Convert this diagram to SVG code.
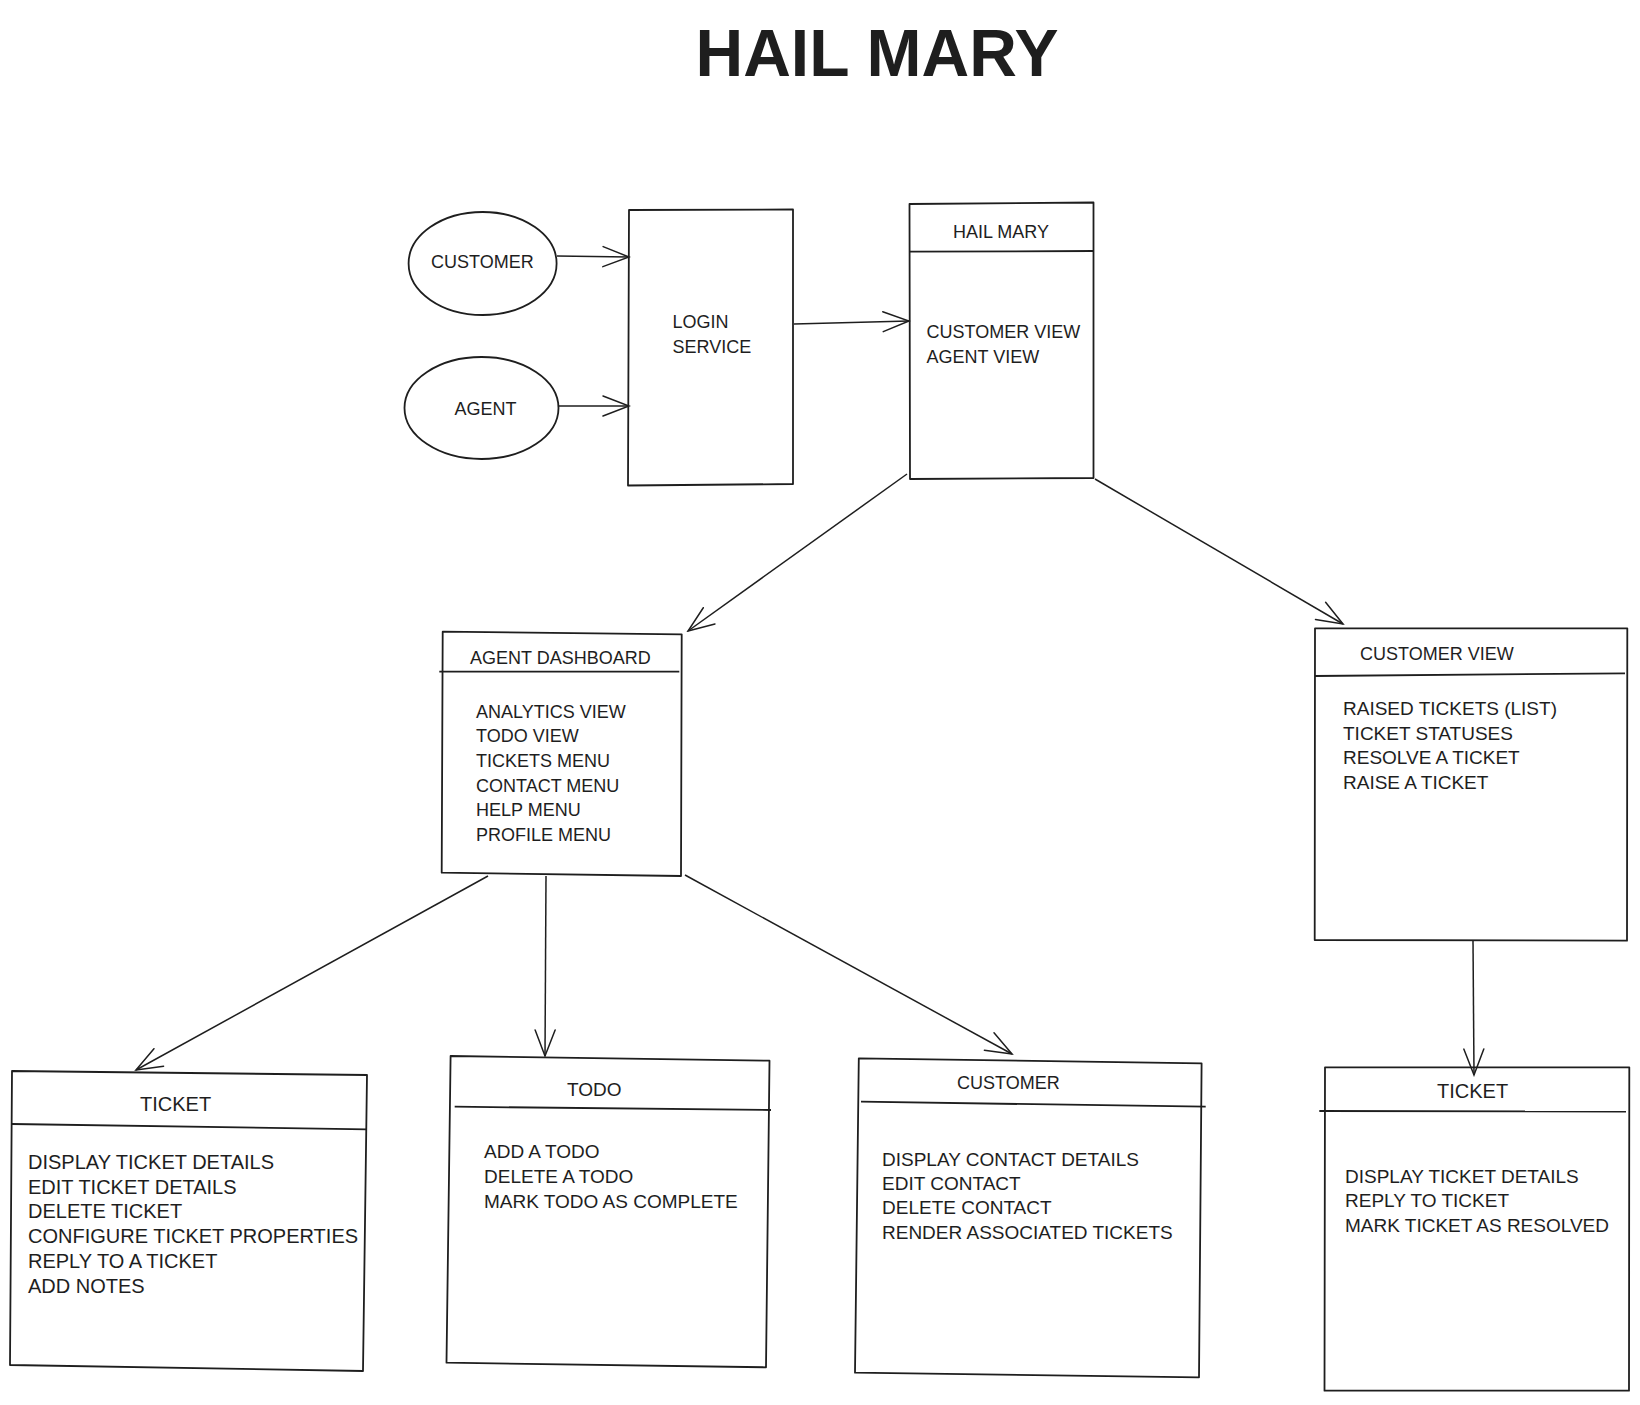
<svg xmlns="http://www.w3.org/2000/svg" width="1640" height="1405" viewBox="0 0 1640 1405">
<style>
.bx{fill:none;stroke:#1e1e1e;stroke-width:1.8;stroke-linejoin:round}
.ln{fill:none;stroke:#1e1e1e;stroke-width:1.5}
text{font-family:"Liberation Sans",Arial,sans-serif;fill:#1e1e1e}
.h{font-size:18px}
.b{font-size:18px}
.b19{font-size:19px}
.b20{font-size:20px}
</style>
<defs>
<marker id="ah" viewBox="-28 -12 30 24" refX="0" refY="0" markerWidth="30" markerHeight="24" markerUnits="userSpaceOnUse" orient="auto">
<path d="M-26,-10 L0,0 L-26,10" fill="none" stroke="#1e1e1e" stroke-width="1.5" stroke-linecap="round"/>
</marker>
</defs>
<rect width="1640" height="1405" fill="#ffffff"/>
<text id="title" x="877" y="76" text-anchor="middle" font-size="66" font-weight="bold">HAIL MARY</text>

<g id="connectors">
<line class="ln" x1="557" y1="256" x2="629" y2="257" marker-end="url(#ah)"/>
<line class="ln" x1="558" y1="406" x2="629" y2="406" marker-end="url(#ah)"/>
<line class="ln" x1="794" y1="324" x2="909" y2="321" marker-end="url(#ah)"/>
<line class="ln" x1="907" y1="474" x2="688" y2="631" marker-end="url(#ah)"/>
<line class="ln" x1="1095" y1="479" x2="1343" y2="624" marker-end="url(#ah)"/>
<line class="ln" x1="488" y1="876" x2="136" y2="1070" marker-end="url(#ah)"/>
<line class="ln" x1="546" y1="876" x2="545" y2="1056" marker-end="url(#ah)"/>
<line class="ln" x1="685" y1="875" x2="1012" y2="1054" marker-end="url(#ah)"/>
<line class="ln" x1="1473" y1="940" x2="1474" y2="1075" marker-end="url(#ah)"/>
</g>

<g id="customer-actor">
<ellipse class="bx" cx="482.6" cy="263.5" rx="74" ry="51.5"/>
<text class="h" x="431" y="268">CUSTOMER</text>
</g>
<g id="agent-actor">
<ellipse class="bx" cx="481.5" cy="408" rx="77" ry="51"/>
<text class="h" x="454.6" y="415">AGENT</text>
</g>
<g id="login-service">
<path class="bx" d="M629,210 L793,209.5 L793,484 L628,485.5 Z"/>
<text class="h" x="672.6" y="328">LOGIN</text>
<text class="h" x="672.6" y="353">SERVICE</text>
</g>
<g id="hail-mary">
<path class="bx" d="M909.5,204 L1093.5,202.5 L1093.5,478 L910,479 Z"/>
<line class="bx" x1="910" y1="251.7" x2="1093.5" y2="251"/>
<text class="h" x="953" y="238">HAIL MARY</text>
<text class="b" x="926.5" y="338">CUSTOMER VIEW</text>
<text class="b" x="926.5" y="363">AGENT VIEW</text>
</g>
<g id="agent-dashboard">
<path class="bx" d="M442.7,631.7 L681.7,634.3 L681,876 L441.7,872.7 Z"/>
<line class="bx" x1="439.3" y1="671.7" x2="679.3" y2="671.7"/>
<text class="h" x="470" y="664">AGENT DASHBOARD</text>
<text class="b" x="476" y="718">ANALYTICS VIEW</text>
<text class="b" x="476" y="742">TODO VIEW</text>
<text class="b" x="476" y="767">TICKETS MENU</text>
<text class="b" x="476" y="792">CONTACT MENU</text>
<text class="b" x="476" y="816">HELP MENU</text>
<text class="b" x="476" y="841">PROFILE MENU</text>
</g>
<g id="customer-view">
<path class="bx" d="M1315,628.3 L1627.3,628.3 L1627,940.7 L1314.7,940 Z"/>
<line class="bx" x1="1315" y1="676" x2="1625" y2="673.3"/>
<text class="h" x="1360" y="660">CUSTOMER VIEW</text>
<text class="b19" x="1343" y="715">RAISED TICKETS (LIST)</text>
<text class="b19" x="1343" y="739.5">TICKET STATUSES</text>
<text class="b19" x="1343" y="764">RESOLVE A TICKET</text>
<text class="b19" x="1343" y="788.5">RAISE A TICKET</text>
</g>
<g id="ticket-agent">
<path class="bx" d="M12,1071 L367,1075 L363,1371 L10,1365 Z"/>
<line class="bx" x1="12" y1="1124" x2="367" y2="1129.3"/>
<text class="b20" x="140" y="1111">TICKET</text>
<text class="b20" x="28" y="1169">DISPLAY TICKET DETAILS</text>
<text class="b20" x="28" y="1194">EDIT TICKET DETAILS</text>
<text class="b20" x="28" y="1218">DELETE TICKET</text>
<text class="b20" x="28" y="1243">CONFIGURE TICKET PROPERTIES</text>
<text class="b20" x="28" y="1268">REPLY TO A TICKET</text>
<text class="b20" x="28" y="1293">ADD NOTES</text>
</g>
<g id="todo">
<path class="bx" d="M450.6,1056 L769.5,1060.7 L766,1367.3 L446.5,1362.7 Z"/>
<line class="bx" x1="454.7" y1="1106.7" x2="771" y2="1110"/>
<text class="b19" x="567" y="1096">TODO</text>
<text class="b19" x="484" y="1158">ADD A TODO</text>
<text class="b19" x="484" y="1183">DELETE A TODO</text>
<text class="b19" x="484" y="1208">MARK TODO AS COMPLETE</text>
</g>
<g id="customer">
<path class="bx" d="M858.8,1058.3 L1201.6,1063.3 L1199,1377.3 L855,1372.7 Z"/>
<line class="bx" x1="861" y1="1101.7" x2="1205.7" y2="1106.7"/>
<text class="h" x="957" y="1089">CUSTOMER</text>
<text class="b19" x="882" y="1166">DISPLAY CONTACT DETAILS</text>
<text class="b19" x="882" y="1190">EDIT CONTACT</text>
<text class="b19" x="882" y="1214">DELETE CONTACT</text>
<text class="b19" x="882" y="1239">RENDER ASSOCIATED TICKETS</text>
</g>
<g id="ticket-customer">
<path class="bx" d="M1325,1067.3 L1629.3,1067.3 L1629,1390.7 L1324.5,1390.7 Z"/>
<line class="bx" x1="1319.3" y1="1111" x2="1626" y2="1111.5"/>
<text class="b20" x="1437" y="1098">TICKET</text>
<text class="b19" x="1345" y="1183">DISPLAY TICKET DETAILS</text>
<text class="b19" x="1345" y="1207">REPLY TO TICKET</text>
<text class="b19" x="1345" y="1232">MARK TICKET AS RESOLVED</text>
</g>
</svg>
